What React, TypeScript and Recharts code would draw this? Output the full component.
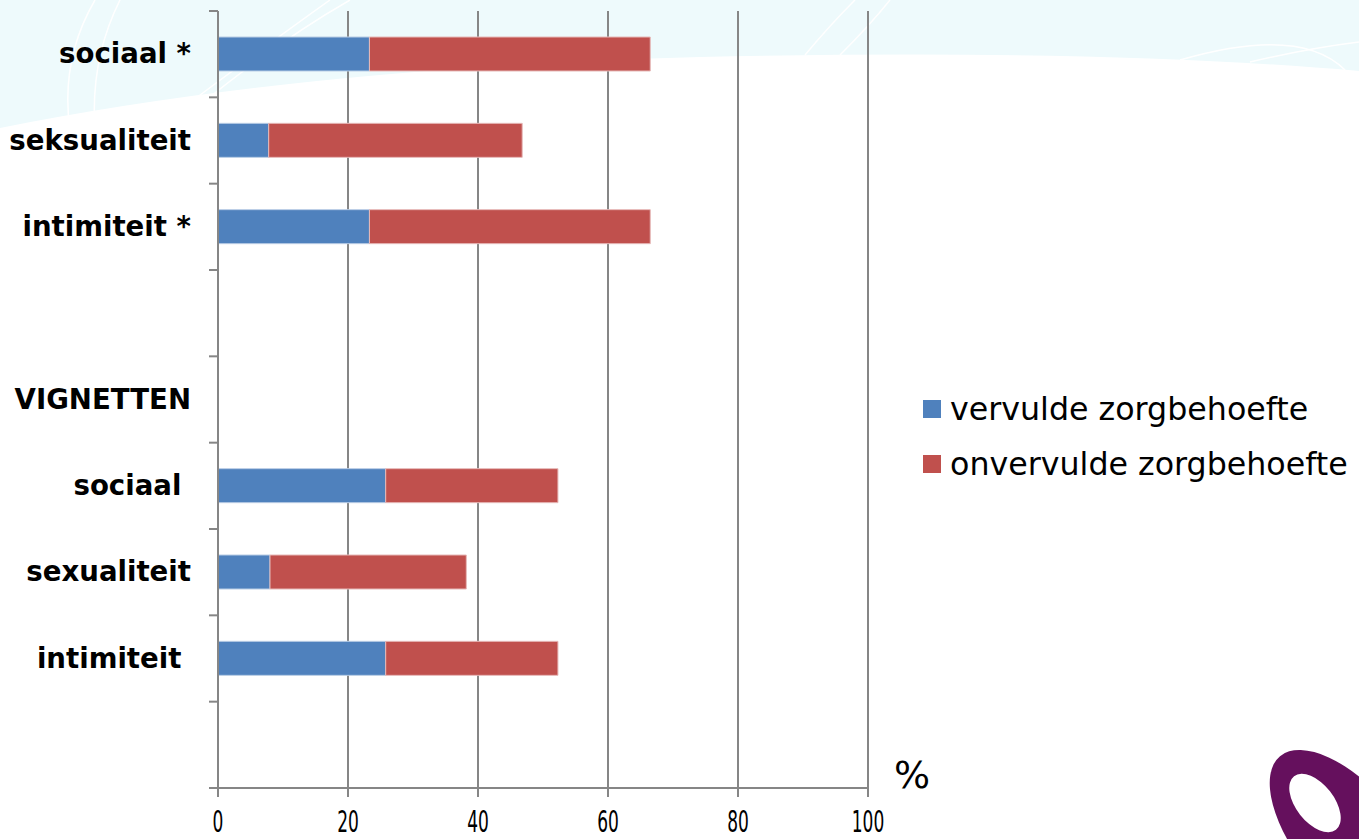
import { BarChart, Bar, XAxis, YAxis, CartesianGrid } from 'recharts'

const categories = [
  'sociaal *',
  'seksualiteit',
  'intimiteit *',
  '',
  'VIGNETTEN',
  'sociaal ',
  'sexualiteit',
  'intimiteit ',
  '',
]
const vervuld = [23.3, 7.8, 23.3, null, null, 25.8, 8.0, 25.8, null]
const onvervuld = [43.2, 39.0, 43.2, null, null, 26.5, 30.2, 26.5, null]
const xTicks = [0, 20, 40, 60, 80, 100]
const seriesNames = ['vervulde zorgbehoefte', 'onvervulde zorgbehoefte']

const W = 1359
const H = 839
const margin = { top: 11, right: 491, bottom: 0, left: 0 }
const axisWidth = 218
const axisHeight = 51
const band = (H - margin.top - axisHeight) / categories.length

const BLUE = '#4f81bd'
const RED = '#c0504d'
const GRID = '#868686'
const FONT = '"DejaVu Sans", Verdana, sans-serif'

const data = categories.map((name, i) => ({
  name,
  vervuld: vervuld[i],
  onvervuld: onvervuld[i],
}))

// category label plus tick marks on the band edges
function CategoryTick(props: any) {
  const { y, payload, index } = props
  const ax = axisWidth
  return (
    <g>
      <line x1={ax - 9} x2={ax} y1={y - band / 2} y2={y - band / 2} stroke={GRID} strokeWidth={2} />
      {index === categories.length - 1 && (
        <line x1={ax - 9} x2={ax} y1={y + band / 2} y2={y + band / 2} stroke={GRID} strokeWidth={2} />
      )}
      <text
        x={ax - 27}
        y={y + 9}
        textAnchor="end"
        fontFamily={FONT}
        fontWeight="bold"
        fontSize={27.6}
        fill="#000"
        style={{ whiteSpace: 'pre' }}
      >
        {payload.value}
      </text>
    </g>
  )
}

// narrow numerals under the value axis
function ValueTick(props: any) {
  const { x, y, payload } = props
  return (
    <text
      transform={`translate(${x},${y + 33}) scale(0.55,1)`}
      textAnchor="middle"
      fontFamily={FONT}
      fontSize={31}
      fill="#000"
    >
      {payload.value}
    </text>
  )
}

function LegendBox() {
  const colors = [BLUE, RED]
  return (
    <div style={{ position: 'absolute', left: 923, top: 381 }}>
      {seriesNames.map((label, i) => (
        <div key={label} style={{ display: 'flex', alignItems: 'center', height: 55 }}>
          <span style={{ width: 18, height: 18, background: colors[i], marginRight: 9 }} />
          <span style={{ fontFamily: FONT, fontSize: 31.7, color: '#000', whiteSpace: 'nowrap' }}>
            {label}
          </span>
        </div>
      ))}
    </div>
  )
}

export default function App() {
  return (
    <div style={{ position: 'absolute', left: 0, top: 0, width: W, height: H, background: '#fff', overflow: 'hidden' }}>
      {/* backdrop: pale wave at the top and the purple mark in the corner */}
      <svg width={W} height={H} style={{ position: 'absolute', left: 0, top: 0 }}>
        <path d="M0,128 Q300,68 700,57 Q1100,48 1359,71 L1359,0 L0,0 Z" fill="#eefafc" />
        <path d="M70,130 Q60,60 95,0" stroke="#fff" strokeWidth={1.5} fill="none" />
        <path d="M95,130 Q90,60 120,0" stroke="#fff" strokeWidth={1.5} fill="none" />
        <path d="M180,110 Q260,50 330,0" stroke="#fff" strokeWidth={1.5} fill="none" />
        <path d="M200,105 Q280,40 350,0" stroke="#fff" strokeWidth={1.5} fill="none" />
        <path d="M805,55 Q830,25 855,0" stroke="#fff" strokeWidth={1.5} fill="none" />
        <path d="M840,55 Q870,25 890,0" stroke="#fff" strokeWidth={1.5} fill="none" />
        <path d="M1180,60 Q1300,25 1345,70" stroke="#fff" strokeWidth={1.5} fill="none" />
        <path d="M1250,62 Q1310,48 1359,42" stroke="#fff" strokeWidth={1.5} fill="none" />
        <ellipse cx={1352} cy={842} rx={52} ry={112} transform="rotate(-40 1352 842)" fill="#65105d" />
        <ellipse cx={1315} cy={803} rx={19} ry={34} transform="rotate(-38 1315 803)" fill="#fff" />
      </svg>

      <div style={{ position: 'absolute', left: 0, top: 0 }}>
        <BarChart width={W} height={H} data={data} layout="vertical" margin={margin} barSize={34}>
          <CartesianGrid horizontal={false} vertical stroke={GRID} strokeWidth={2} />
          <XAxis
            type="number"
            domain={[0, 100]}
            ticks={xTicks}
            interval={0}
            axisLine={{ stroke: GRID, strokeWidth: 2 }}
            tickLine={{ stroke: GRID, strokeWidth: 2 }}
            tickSize={9}
            tick={<ValueTick />}
            height={axisHeight}
          />
          <YAxis
            type="category"
            dataKey="name"
            width={axisWidth}
            interval={0}
            axisLine={{ stroke: GRID, strokeWidth: 2 }}
            tickLine={false}
            tick={<CategoryTick />}
          />
          <Bar dataKey="vervuld" name={seriesNames[0]} stackId="a" fill={BLUE} stroke="#b9cde5" strokeWidth={1} isAnimationActive={false} />
          <Bar dataKey="onvervuld" name={seriesNames[1]} stackId="a" fill={RED} stroke="#e6b9b8" strokeWidth={1} isAnimationActive={false} />
          <text x={912} y={788} textAnchor="middle" fontFamily={FONT} fontSize={38} fill="#000">
            %
          </text>
        </BarChart>
      </div>

      <LegendBox />
    </div>
  )
}
